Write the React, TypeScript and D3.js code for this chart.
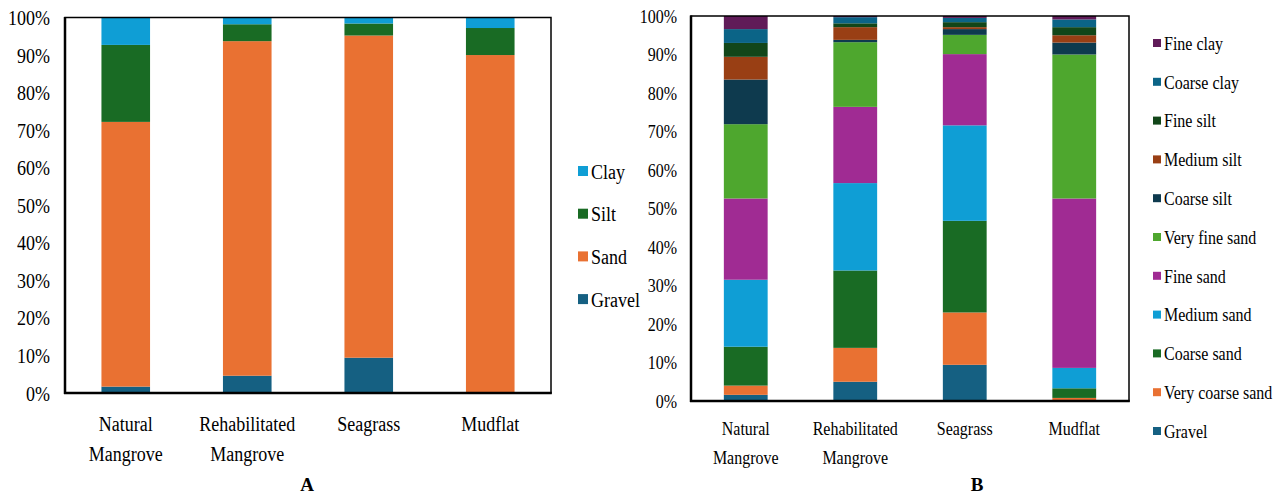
import React from "react";
import * as d3 from "d3";

// ---------- data ----------
const categories = ["Natural Mangrove", "Rehabilitated Mangrove", "Seagrass", "Mudflat"];
const categoryLines = [["Natural", "Mangrove"], ["Rehabilitated", "Mangrove"], ["Seagrass"], ["Mudflat"]];
const yTicks = [0, 10, 20, 30, 40, 50, 60, 70, 80, 90, 100];

// Chart A (bottom to top)
const seriesA = ["Gravel", "Sand", "Silt", "Clay"];
const gravelA = [1.7, 4.6, 9.4, 0];
const sandA = [70.5, 89.1, 85.8, 90.0];
const siltA = [20.5, 4.5, 3.2, 7.2];
const clayA = [7.3, 1.8, 1.6, 2.8];
const colorsA = ["#156082", "#E97132", "#196B24", "#0F9ED5"];

// Chart B (bottom to top)
const seriesB = [
  "Gravel", "Very coarse sand", "Coarse sand", "Medium sand", "Fine sand",
  "Very fine sand", "Coarse silt", "Medium silt", "Fine silt", "Coarse clay", "Fine clay",
];
const gravelB = [1.6, 5.0, 9.4, 0];
const veryCoarseSand = [2.4, 8.8, 13.6, 0.8];
const coarseSand = [10.1, 20.1, 23.8, 2.5];
const mediumSand = [17.4, 22.7, 24.8, 5.3];
const fineSand = [21.1, 19.8, 18.5, 44.0];
const veryFineSand = [19.3, 16.8, 5.0, 37.4];
const coarseSilt = [11.6, 0.6, 1.5, 3.1];
const mediumSilt = [5.9, 3.3, 0.5, 1.9];
const fineSilt = [3.6, 1.0, 1.3, 2.1];
const coarseClay = [3.6, 1.6, 1.1, 2.0];
const fineClay = [3.4, 0.3, 0.5, 0.9];
const colorsB = [
  "#156082", "#E97132", "#196B24", "#0F9ED5", "#A02B93",
  "#4EA72E", "#0E3A4E", "#993F14", "#124619", "#0B6487", "#601B58",
];

const FONT = "Times New Roman, Liberation Serif, DejaVu Serif, serif";
const SY = 1.2;

type ChartProps = {
  left: number; right: number; top: number; bottom: number;
  series: string[]; values: number[][]; colors: string[];
  fontSize: number; tickRight: number; labelY1: number; labelGap: number;
  legendX: number; legendY0: number; legendStep: number; legendSq: number; legendFont: number;
  letter: string; letterX: number;
};

function StackedChart(p: ChartProps) {
  const rows = categories.map((c, i) => {
    const r: any = { cat: c };
    p.series.forEach((s, j) => (r[s] = p.values[j][i]));
    return r;
  });
  const stacked = d3.stack<any>().keys(p.series)(rows);
  const x = d3.scaleBand<string>().domain(categories).range([p.left, p.right]).paddingInner(0.6).paddingOuter(0.3);
  const y = d3.scaleLinear().domain([0, 100]).range([p.bottom, p.top]);
  const legendOrder = p.series.map((s, i) => ({ s, c: p.colors[i] })).reverse();
  return (
    <g>
      {stacked.map((layer, j) => (
        <g key={layer.key} fill={p.colors[j]}>
          {layer.map((d, i) => {
            const h = y(d[0]) - y(d[1]);
            if (h <= 0) return null;
            return <rect key={i} x={x(categories[i])} y={y(d[1])} width={x.bandwidth()} height={h} />;
          })}
        </g>
      ))}
      <rect x={p.left} y={p.top} width={p.right - p.left} height={p.bottom - p.top} fill="none" stroke="#000" strokeWidth={1.5} />
      <line x1={p.left} x2={p.left} y1={p.top - 0.5} y2={p.bottom + 1} stroke="#000" strokeWidth={2.5} />
      <line x1={p.left - 1} x2={p.right + 0.75} y1={p.bottom} y2={p.bottom} stroke="#000" strokeWidth={2.5} />
      {yTicks.map((t) => (
        <g key={t} transform={`translate(${p.tickRight},${y(t)}) scale(1,${SY})`}>
          <text textAnchor="end" dy="0.35em" fontSize={p.fontSize} fontFamily={FONT} fill="#000">{t}%</text>
        </g>
      ))}
      {categories.map((c, i) =>
        categoryLines[i].map((ln, k) => (
          <g key={c + k} transform={`translate(${(x(c) as number) + x.bandwidth() / 2},${p.labelY1 + k * p.labelGap}) scale(1,${SY})`}>
            <text textAnchor="middle" dy="0.35em" fontSize={p.fontSize} fontFamily={FONT} fill="#000">{ln}</text>
          </g>
        ))
      )}
      {legendOrder.map((d, k) => {
        const cy = p.legendY0 + k * p.legendStep;
        return (
          <g key={d.s}>
            <rect x={p.legendX} y={cy - p.legendSq / 2} width={p.legendSq} height={p.legendSq} fill={d.c} />
            <g transform={`translate(${p.legendX + p.legendSq + 3},${cy}) scale(1,${SY})`}>
              <text dy="0.35em" fontSize={p.legendFont} fontFamily={FONT} fill="#000">{d.s}</text>
            </g>
          </g>
        );
      })}
      <text x={p.letterX} y={491} textAnchor="middle" fontSize={19} fontWeight="bold" fontFamily={FONT} fill="#000">{p.letter}</text>
    </g>
  );
}

export default function App() {
  return (
    <div style={{ position: "absolute", left: 0, top: 0 }}>
      <svg width={1285} height={497} style={{ display: "block", background: "#fff" }}>
        <StackedChart
          left={65} right={551} top={17.5} bottom={393}
          series={seriesA} values={[gravelA, sandA, siltA, clayA]} colors={colorsA}
          fontSize={18} tickRight={50} labelY1={423} labelGap={30}
          legendX={578} legendY0={171} legendStep={42.7} legendSq={10} legendFont={18}
          letter="A" letterX={307}
        />
        <StackedChart
          left={691} right={1129} top={16} bottom={401}
          series={seriesB}
          values={[gravelB, veryCoarseSand, coarseSand, mediumSand, fineSand, veryFineSand, coarseSilt, mediumSilt, fineSilt, coarseClay, fineClay]}
          colors={colorsB}
          fontSize={16} tickRight={677} labelY1={428} labelGap={29}
          legendX={1153} legendY0={43} legendStep={38.8} legendSq={8} legendFont={16}
          letter="B" letterX={977}
        />
      </svg>
    </div>
  );
}
